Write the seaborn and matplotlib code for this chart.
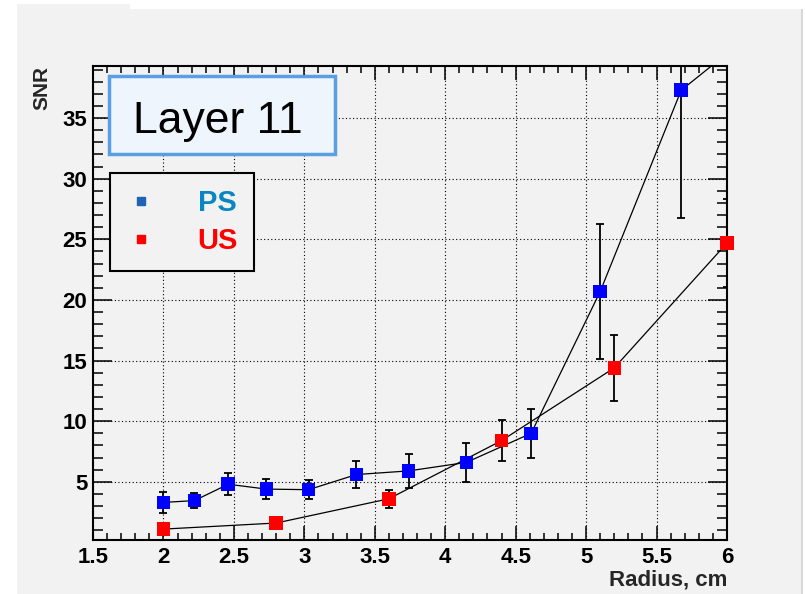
import matplotlib
matplotlib.use("Agg")
import matplotlib.pyplot as plt
from matplotlib.lines import Line2D
from matplotlib.patches import Rectangle
from matplotlib.ticker import MultipleLocator
import seaborn as sns

# --------------------------------------------------------------
# Data
# --------------------------------------------------------------

ps_radius = [2.00, 2.22, 2.46, 2.73, 3.03, 3.37, 3.74, 4.15, 4.61, 5.10, 5.675, 6.20]
ps_snr = [3.3, 3.45, 4.8, 4.4, 4.35, 5.6, 5.9, 6.6, 9.0, 20.7, 37.3, 42.2]
ps_err = [0.9, 0.6, 0.9, 0.8, 0.8, 1.1, 1.4, 1.6, 2.0, 5.6, 10.5, 12.0]

us_radius = [2.0, 2.8, 3.6, 4.4, 5.2, 6.0]
us_snr = [1.1, 1.6, 3.6, 8.4, 14.4, 24.7]
us_err = [0.4, 0.4, 0.75, 1.7, 2.75, 3.6]

legend_labels = ["PS", "US"]
title_text = "Layer 11"

# --------------------------------------------------------------
# Style
# --------------------------------------------------------------

sns.set_style("ticks")
plt.rcParams["font.family"] = ["Liberation Sans", "DejaVu Sans"]

gray = "#f2f2f2"
blue = "#0000ff"
red = "#ff0000"

fig = plt.figure(figsize=(8.05, 5.94), dpi=100, facecolor="white")
fig.patches.append(Rectangle((17 / 805, 0), 786 / 805, 585 / 594,
                             transform=fig.transFigure, facecolor=gray,
                             edgecolor="none", zorder=-10))
fig.patches.append(Rectangle((17 / 805, 585 / 594), 113 / 805, 5 / 594,
                             transform=fig.transFigure, facecolor=gray,
                             edgecolor="none", zorder=-10))
fig.patches.append(Rectangle((801 / 805, 0), 2 / 805, 585 / 594,
                             transform=fig.transFigure, facecolor="#d8d8d8",
                             edgecolor="none", zorder=-9))

ax = fig.add_axes([93 / 805, 54 / 594, 634 / 805, 474 / 594])
ax.set_facecolor(gray)

# --------------------------------------------------------------
# Lines, error bars, markers
# --------------------------------------------------------------

sns.lineplot(x=ps_radius, y=ps_snr, ax=ax, color="black", lw=0.9,
             estimator=None, sort=False, zorder=2)
sns.lineplot(x=us_radius, y=us_snr, ax=ax, color="black", lw=0.9,
             estimator=None, sort=False, zorder=2)

ax.errorbar(ps_radius, ps_snr, yerr=ps_err, fmt="none", ecolor="black",
            elinewidth=1.3, capsize=3, capthick=1.3, zorder=3)
ax.errorbar(us_radius, us_snr, yerr=us_err, fmt="none", ecolor="black",
            elinewidth=1.3, capsize=3, capthick=1.3, zorder=3)

ps_in = [i for i, r in enumerate(ps_radius) if r <= 6.0]
sns.scatterplot(x=[ps_radius[i] for i in ps_in], y=[ps_snr[i] for i in ps_in],
                ax=ax, marker="s", s=95, color=blue, edgecolor="none",
                zorder=4)
sns.scatterplot(x=us_radius, y=us_snr, ax=ax, marker="s", s=95, color=red,
                edgecolor="none", zorder=4, clip_on=False)

# --------------------------------------------------------------
# Axes
# --------------------------------------------------------------

ax.set_xlim(1.5, 6.0)
ax.set_ylim(0.2, 39.3)
ax.xaxis.set_major_locator(MultipleLocator(0.5))
ax.xaxis.set_minor_locator(MultipleLocator(0.1))
ax.yaxis.set_major_locator(MultipleLocator(5))
ax.yaxis.set_minor_locator(MultipleLocator(1))
ax.set_xticks([1.5, 2, 2.5, 3, 3.5, 4, 4.5, 5, 5.5, 6])
ax.set_xticklabels(["1.5", "2", "2.5", "3", "3.5", "4", "4.5", "5", "5.5", "6"])

ax.tick_params(axis="both", which="both", direction="in", top=True,
               right=True, colors="black", width=1.1, labelsize=16)
ax.tick_params(axis="x", which="major", length=10, pad=5)
ax.tick_params(axis="x", which="minor", length=5)
ax.tick_params(axis="y", which="major", length=14, pad=4)
ax.tick_params(axis="y", which="minor", length=7)
for lab in ax.get_xticklabels() + ax.get_yticklabels():
    lab.set_fontweight("bold")

for s in ax.spines.values():
    s.set_color("black")
    s.set_linewidth(1.5)

ax.grid(True, which="major", color="black", ls=(0, (1, 2.2)), lw=0.8)
ax.set_axisbelow(True)

ax.set_ylabel("SNR", loc="top", fontsize=15, fontweight="bold", labelpad=8)
ax.set_xlabel("Radius, cm", loc="right", fontsize=16, fontweight="bold",
              labelpad=1)

# --------------------------------------------------------------
# Title box and legend
# --------------------------------------------------------------

ax.add_patch(Rectangle((0.025, 0.814), 0.357, 0.165, transform=ax.transAxes,
                       facecolor="#eef5fd", edgecolor="#5a9fe4", lw=2.5,
                       zorder=6))
ax.text(0.197, 0.859, title_text, transform=ax.transAxes, ha="center",
        va="baseline", fontsize=32, color="black", zorder=7)

handles = [
    Line2D([], [], marker="s", ls="none", color="#1f63b5", ms=6),
    Line2D([], [], marker="s", ls="none", color=red, ms=6),
]
leg = ax.legend(handles, legend_labels, loc="upper left",
                bbox_to_anchor=(0.027, 0.774), frameon=True, fancybox=False,
                edgecolor="black", facecolor=gray, framealpha=1,
                prop={"weight": "bold", "size": 21}, handlelength=1.0,
                handletextpad=1.45, borderpad=0.55, labelspacing=0.34,
                borderaxespad=0)
leg.get_frame().set_linewidth(1.5)
leg.set_zorder(6)
for t, c in zip(leg.get_texts(), ["#0a87c0", red]):
    t.set_color(c)

plt.savefig("out.png", dpi=100, facecolor=fig.get_facecolor())
